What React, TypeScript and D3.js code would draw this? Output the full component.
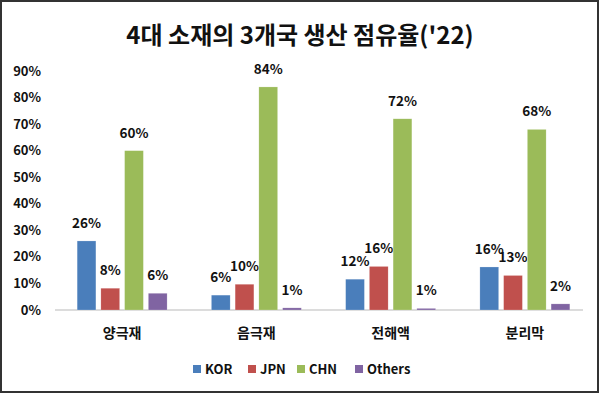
import React from 'react'
import { scaleBand, scaleLinear, range } from 'd3'

const categories = ['양극재', '음극재', '전해액', '분리막']
const seriesNames = ['KOR', 'JPN', 'CHN', 'Others']
const seriesColors = ['#4a7ebb', '#c0504d', '#9bbb59', '#8064a2']
const korValues = [26, 5.6, 11.6, 16.2]
const jpnValues = [8.2, 9.7, 16.4, 13]
const chnValues = [60, 84, 72, 68]
const otherValues = [6.3, 0.8, 0.6, 2.3]
const yTicks = [0, 10, 20, 30, 40, 50, 60, 70, 80, 90]

const allSeries = [korValues, jpnValues, chnValues, otherValues]
const font = '"Noto Sans CJK KR", "Noto Sans", sans-serif'

function App() {
  const width = 600
  const height = 394
  const margin = { top: 71, right: 13, bottom: 84, left: 55 }
  const baseY = height - margin.bottom

  const x = scaleBand().domain(categories).range([margin.left, width - margin.right + 5])
  const groupW = x.step() * 0.67
  const xInner = scaleBand().domain(seriesNames).range([0, groupW]).paddingInner(0.21)
  const y = scaleLinear().domain([0, 90]).range([baseY, margin.top])

  // legend positions
  const legendX = [193, 248, 297, 355]

  return (
    <svg width={width} height={height} style={{ position: 'absolute', left: 0, top: 0, background: '#fff' }} fontFamily={font}>
      <rect x={1} y={1} width={597} height={391} fill="#fff" stroke="#333" strokeWidth={2} />
      <text x={300} y={44} textAnchor="middle" fontSize={24} fontWeight="bold" fill="#111">
        4대 소재의 3개국 생산 점유율('22)
      </text>

      {yTicks.map(t => (
        <text key={t} x={41} y={y(t)} dy="0.35em" textAnchor="end" fontSize={13} fontWeight="bold" fill="#111">
          {t}%
        </text>
      ))}

      <line x1={margin.left} x2={583} y1={baseY} y2={baseY} stroke="#d0d0d0" strokeWidth={1.5} />

      {categories.map((c, ci) => {
        const gx = x(c)! + (x.bandwidth() - groupW) / 2
        return (
          <g key={c}>
            {allSeries.map((vals, si) => {
              const bx = gx + xInner(seriesNames[si])!
              const v = vals[ci]
              return (
                <g key={si}>
                  <rect x={bx} y={y(v)} width={xInner.bandwidth()} height={baseY - y(v)} fill={seriesColors[si]} stroke="#fff" strokeOpacity={0.4} strokeWidth={0.5} />
                  <text x={bx + xInner.bandwidth() / 2} y={y(v) - 13} textAnchor="middle" fontSize={13.5} fontWeight="bold" fill="#111">
                    {Math.round(v)}%
                  </text>
                </g>
              )
            })}
            <text x={x(c)! + x.bandwidth() / 2} y={338} textAnchor="middle" fontSize={14} fontWeight="bold" fill="#111">
              {c}
            </text>
          </g>
        )
      })}

      {range(seriesNames.length).map(i => (
        <g key={i} transform={`translate(${legendX[i]},365)`}>
          <rect width={8} height={8} fill={seriesColors[i]} />
          <text x={12} y={4} dy="0.36em" fontSize={13} fontWeight="bold" fill="#111">
            {seriesNames[i]}
          </text>
        </g>
      ))}
    </svg>
  )
}

export default App
